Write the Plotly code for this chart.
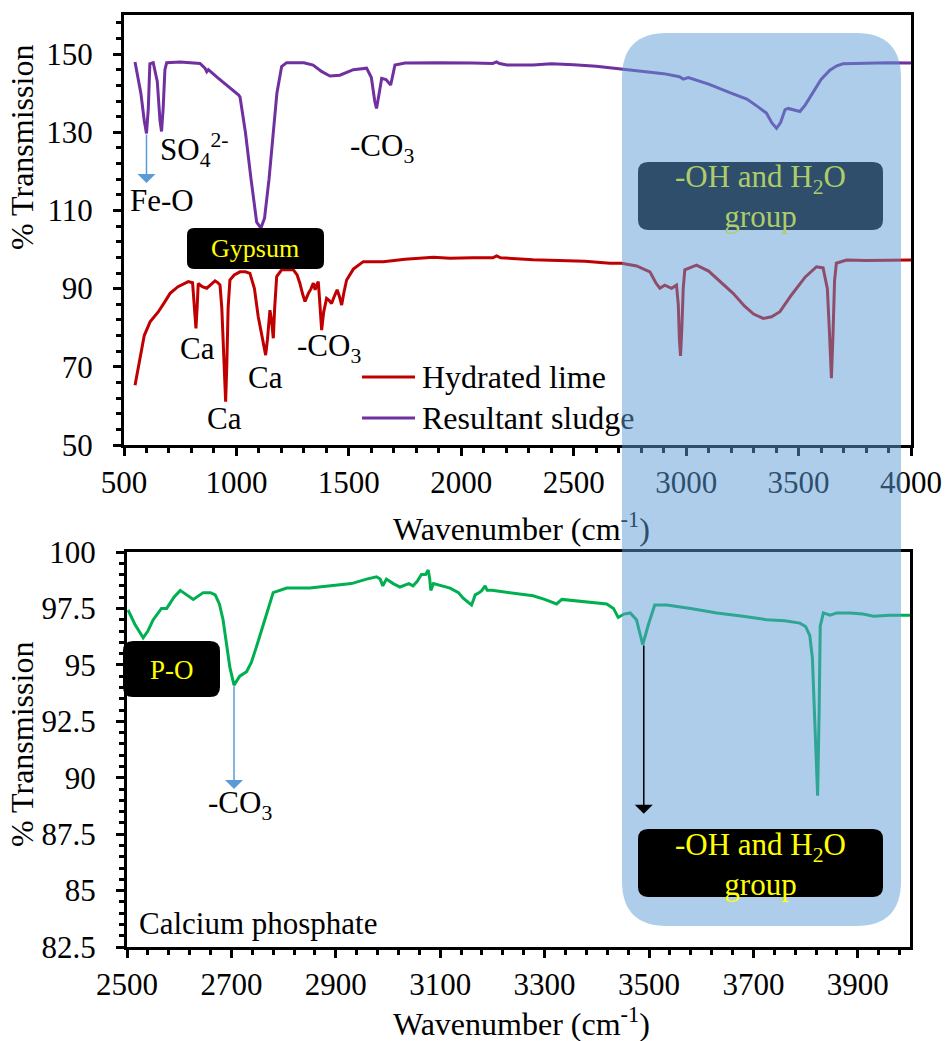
import plotly.graph_objects as go

# ---------------- data ----------------
# Resultant sludge (top panel)
sludge_wn = [549, 575, 590, 600, 608, 615, 630, 648, 660, 667, 674, 682, 690, 750, 838, 860, 868, 875,
             920, 985, 1010, 1016, 1040, 1065, 1090, 1109, 1125, 1145, 1163, 1180, 1201, 1223, 1300,
             1341, 1380, 1416, 1460, 1520, 1579, 1600, 1615, 1623, 1632, 1646, 1665, 1680, 1686, 1695,
             1705, 1750, 1900, 2050, 2140, 2157, 2170, 2203, 2319, 2400, 2500, 2600, 2705, 2800, 2900,
             2970, 2987, 3010, 3100, 3200, 3254, 3270, 3320, 3357, 3380, 3402, 3420, 3440, 3454, 3480,
             3506, 3530, 3565, 3600, 3639, 3670, 3698, 3800, 3900, 4000]
sludge_t = [148.0, 140.0, 133.0, 129.7, 136.0, 147.5, 147.8, 143.0, 133.0, 130.2, 136.0, 146.0, 147.8,
            148.0, 147.6, 146.4, 145.5, 146.0, 143.8, 140.8, 139.5, 139.0, 130.0, 118.0, 107.0, 105.5,
            108.0, 118.0, 129.8, 140.0, 146.8, 147.8, 147.8, 147.2, 145.5, 144.4, 144.6, 146.0, 146.4,
            144.0, 138.0, 136.1, 139.0, 143.8, 143.5, 142.3, 142.1, 144.5, 147.2, 147.7, 147.8, 147.7,
            147.6, 148.0, 147.6, 147.2, 147.2, 147.5, 147.3, 146.9, 146.2, 145.6, 145.0, 144.2, 143.6,
            144.0, 142.3, 140.0, 138.7, 138.5, 136.5, 134.9, 132.5, 131.0, 132.5, 135.8, 136.1, 135.7,
            135.3, 137.0, 140.4, 143.5, 145.9, 147.0, 147.5, 147.7, 147.8, 147.7]

# Hydrated lime (top panel)
lime_wn = [549, 570, 590, 616, 653, 680, 705, 740, 786, 805, 812, 820, 826, 830, 848, 868, 890, 905,
           918, 927, 935, 942, 947, 952, 957, 963, 971, 990, 1016, 1040, 1060, 1080, 1097, 1112, 1123,
           1130, 1138, 1149, 1156, 1164, 1170, 1179, 1201, 1253, 1270, 1282, 1295, 1305, 1320, 1332,
           1342, 1350, 1357, 1364, 1370, 1379, 1388, 1401, 1412, 1423, 1435, 1448, 1458, 1468, 1478,
           1490, 1520, 1564, 1653, 1750, 1876, 1950, 2050, 2140, 2157, 2175, 2319, 2450, 2550, 2661,
           2713, 2780, 2839, 2865, 2883, 2905, 2935, 2957, 2965, 2970, 2975, 2981, 2987, 2994, 3046,
           3100, 3160, 3209, 3260, 3300, 3343, 3380, 3417, 3470, 3530, 3580, 3609, 3628, 3638, 3646,
           3653, 3660, 3668, 3713, 3800, 3900, 4000]
lime_t = [65.3, 72.0, 78.0, 81.5, 84.1, 86.5, 88.8, 90.5, 91.8, 91.5, 85.0, 79.8, 86.0, 91.3, 90.5,
          90.1, 91.2, 92.0, 91.5, 90.9, 85.0, 74.0, 65.0, 61.1, 70.0, 85.0, 92.2, 93.5, 94.3, 94.3,
          93.9, 90.0, 82.8, 78.6, 75.0, 73.0, 77.0, 84.5, 82.0, 77.3, 85.0, 93.1, 94.8, 94.8, 93.5,
          91.4, 88.5, 86.7, 88.8, 90.0, 91.4, 89.7, 91.0, 91.8, 87.0, 79.4, 84.0, 87.5, 87.0, 86.2,
          88.0, 89.7, 88.0, 85.8, 89.0, 92.2, 95.0, 96.9, 96.9, 97.5, 98.0, 97.8, 97.9, 97.9, 98.4,
          97.9, 97.4, 97.2, 97.0, 96.5, 96.5, 95.8, 94.3, 91.5, 90.1, 90.9, 90.1, 90.9, 86.0, 77.0,
          72.8, 80.0, 90.0, 94.8, 96.0, 94.5, 91.5, 88.8, 85.5, 83.5, 82.4, 82.8, 84.1, 88.5, 93.0,
          95.6, 95.3, 90.0, 78.0, 67.1, 78.0, 92.0, 96.5, 97.3, 97.2, 97.2, 97.3]

# Calcium phosphate (bottom panel)
cap_wn = [2502, 2515, 2531, 2540, 2550, 2566, 2576, 2590, 2602, 2615, 2627, 2646, 2660, 2669, 2677,
          2684, 2690, 2697, 2705, 2710, 2716, 2729, 2738, 2748, 2758, 2768, 2780, 2806, 2850, 2895,
          2930, 2959, 2978, 2985, 2990, 2997, 3010, 3023, 3040, 3048, 3056, 3064, 3072, 3077, 3080,
          3082, 3087, 3119, 3135, 3144, 3152, 3160, 3164, 3167, 3175, 3180, 3186, 3190, 3199, 3234,
          3278, 3300, 3323, 3333, 3380, 3419, 3432, 3441, 3452, 3464, 3476, 3482, 3488, 3493, 3499,
          3511, 3534, 3580, 3630, 3680, 3725, 3760, 3789, 3800, 3808, 3813, 3817, 3820, 3823, 3826,
          3828, 3834, 3847, 3860, 3885, 3910, 3930, 3960, 3981, 4000]
cap_t = [97.43, 96.8, 96.2, 96.5, 96.99, 97.5, 97.5, 98.0, 98.3, 98.1, 97.9, 98.2, 98.2, 98.1, 97.7,
         97.0, 96.0, 94.9, 94.1, 94.3, 94.5, 94.7, 95.1, 95.8, 96.6, 97.3, 98.2, 98.4, 98.4, 98.5,
         98.6, 98.8, 98.9, 98.8, 98.5, 98.8, 98.6, 98.45, 98.6, 98.5, 98.7, 99.0, 99.0, 99.2, 98.8,
         98.3, 98.6, 98.4, 98.2, 97.95, 97.8, 97.65, 97.9, 98.1, 98.2, 98.3, 98.5, 98.3, 98.3, 98.2,
         98.06, 97.9, 97.7, 97.9, 97.8, 97.7, 97.5, 97.1, 97.25, 97.3, 97.0, 96.4, 95.9, 96.3, 96.8,
         97.65, 97.65, 97.5, 97.3, 97.15, 97.0, 96.95, 96.85, 96.7, 96.3, 95.3, 93.0, 90.5, 89.2, 93.0,
         96.7, 97.3, 97.2, 97.3, 97.3, 97.25, 97.15, 97.2, 97.2, 97.2]

# axis ticks
top_xticks = [500, 1000, 1500, 2000, 2500, 3000, 3500, 4000]
top_yticks = [50, 70, 90, 110, 130, 150]
bot_xticks = [2500, 2700, 2900, 3100, 3300, 3500, 3700, 3900]
bot_yticks = [82.5, 85, 87.5, 90, 92.5, 95, 97.5, 100]

# ---------------- layout helpers ----------------
W, H = 947, 1041
FONT = "Liberation Serif"
FS = 31
RED, PURPLE, GREEN = "#C00000", "#7030A0", "#00B050"
OVERLAY = "rgba(91,155,213,0.5)"
DARK_UNDER = "#2E4E6A"     # black seen through the blue band
YELLOW_UNDER = "#ADCD6A"   # yellow seen through the blue band


def px(x):
    return x / W


def py(y):
    return 1 - y / H


def rounded_rect(x0, y0, x1, y1, r):
    """SVG path of a rounded rectangle given in pixel coords, returned in paper units."""
    pts = [
        ("M", (x0 + r, y0)), ("L", (x1 - r, y0)), ("Q", (x1, y0, x1, y0 + r)),
        ("L", (x1, y1 - r)), ("Q", (x1, y1, x1 - r, y1)), ("L", (x0 + r, y1)),
        ("Q", (x0, y1, x0, y1 - r)), ("L", (x0, y0 + r)), ("Q", (x0, y0, x0 + r, y0)),
    ]
    parts = []
    for cmd, c in pts:
        coords = []
        for i in range(0, len(c), 2):
            coords.append(f"{px(c[i]):.5f},{py(c[i + 1]):.5f}")
        parts.append(cmd + " " + " ".join(coords))
    return " ".join(parts) + " Z"


def box(x0, y0, x1, y1, r, color):
    return dict(type="path", xref="paper", yref="paper", path=rounded_rect(x0, y0, x1, y1, r),
                fillcolor=color, line=dict(width=0), layer="above")


def text(t, x, y, size=FS, color="black", xanchor="center", yanchor="middle", **kw):
    return dict(text=t, x=px(x), y=py(y), xref="paper", yref="paper", showarrow=False,
                xanchor=xanchor, yanchor=yanchor, font=dict(family=FONT, size=size, color=color), **kw)


def arrow(x, y_tail, y_head, xref, yref, color):
    return dict(x=x, y=y_head, ax=x, ay=y_tail, xref=xref, yref=yref, axref=xref, ayref=yref,
                text=" ", font=dict(size=1), borderpad=0, showarrow=True, arrowhead=1,
                arrowsize=2, arrowwidth=1.5, arrowcolor=color, standoff=0, startstandoff=0)


fig = go.Figure()
fig.add_trace(go.Scatter(x=lime_wn, y=lime_t, mode="lines", name="Hydrated lime",
                         line=dict(color=RED, width=3), xaxis="x", yaxis="y"))
fig.add_trace(go.Scatter(x=sludge_wn, y=sludge_t, mode="lines", name="Resultant sludge",
                         line=dict(color=PURPLE, width=3), xaxis="x", yaxis="y"))
fig.add_trace(go.Scatter(x=cap_wn, y=cap_t, mode="lines", name="Calcium phosphate",
                         line=dict(color=GREEN, width=3), xaxis="x2", yaxis="y2"))

axis_common = dict(showgrid=False, zeroline=False, showline=True, linecolor="black", linewidth=3,
                   mirror=True, ticks="outside", ticklen=8, tickwidth=2.5, tickcolor="black",
                   tickfont=dict(family=FONT, size=FS, color="black"))

fig.update_layout(
    width=W, height=H, margin=dict(l=0, r=0, t=0, b=0, autoexpand=False),
    paper_bgcolor="white", plot_bgcolor="white", showlegend=False,
    xaxis=dict(axis_common, domain=[px(124), px(911)], anchor="y", range=[500, 4000],
               tickvals=top_xticks, ticklabelstandoff=0,
               minor=dict(dtick=100, tick0=500, ticks="outside", ticklen=5, tickwidth=2.5, tickcolor="black")),
    yaxis=dict(axis_common, domain=[py(445), py(15)], anchor="x", range=[50, 160],
               tickvals=top_yticks, ticklabelstandoff=14,
               minor=dict(dtick=4, tick0=50, ticks="outside", ticklen=5, tickwidth=2.5, tickcolor="black")),
    xaxis2=dict(axis_common, domain=[px(127), px(910)], anchor="y2", range=[2500, 4000],
                tickvals=bot_xticks, ticklabelstandoff=0,
                minor=dict(dtick=40, tick0=2500, ticks="outside", ticklen=5, tickwidth=2.5, tickcolor="black")),
    yaxis2=dict(axis_common, domain=[py(947), py(552)], anchor="x2", range=[82.5, 100],
                tickvals=bot_yticks, ticklabelstandoff=14,
                minor=dict(dtick=0.5, tick0=82.5, ticks="outside", ticklen=5, tickwidth=2.5, tickcolor="black")),
)

shapes = [
    # legend keys
    dict(type="line", xref="paper", yref="paper", x0=px(362), x1=px(415), y0=py(377), y1=py(377),
         line=dict(color=RED, width=3)),
    dict(type="line", xref="paper", yref="paper", x0=px(362), x1=px(415), y0=py(418), y1=py(418),
         line=dict(color=PURPLE, width=3)),
    box(187, 228, 324, 269, 7, "black"),           # Gypsum
    box(123, 641, 220, 697, 10, "black"),          # P-O
    box(638, 162, 883, 230, 10, "black"),          # -OH label, top panel (sits under the band)
    box(622, 33, 901, 926, 45, OVERLAY),           # highlighted -OH / H2O region
    box(638, 829, 883, 897, 10, "black"),          # -OH label, bottom panel
]
fig.update_layout(shapes=shapes)

anns = [
    # axis titles
    text("% Transmission", 22, 148, size=32, textangle=-90),
    text("% Transmission", 22, 745, size=32, textangle=-90),
    text(f"Wavenumber (cm<span style='color:{DARK_UNDER}'><sup>-1</sup>)</span>", 521, 527, size=32),
    text("Wavenumber (cm<sup>-1</sup>)", 521, 1022, size=32),
    # legend text
    text("Hydrated lime", 420, 377, size=32, xanchor="left"),
    text(f"Resultant sludg<span style='color:{DARK_UNDER}'>e</span>", 420, 418, size=32, xanchor="left"),
    # top panel labels
    text("SO<sub>4</sub><sup>2-</sup>", 158, 150, xanchor="left"),
    text("Fe-O", 162, 200),
    text("-CO<sub>3</sub>", 348, 148, xanchor="left"),
    text("Gypsum", 255, 248, size=26, color="yellow"),
    text("Ca", 197, 348),
    text("Ca", 224, 418),
    text("Ca", 265, 377),
    text("-CO<sub>3</sub>", 295, 348, xanchor="left"),
    text("-OH and H<sub>2</sub>O<br>group", 760, 196, color=YELLOW_UNDER),
    # bottom panel labels
    text("P-O", 172, 670, size=27, color="yellow"),
    text("-CO<sub>3</sub>", 240, 805),
    text("Calcium phosphate", 137, 923, xanchor="left"),
    text("-OH and H<sub>2</sub>O<br>group", 760, 864, color="yellow"),
    # arrows from the absorption minima
    arrow(600, 129.7, 117, "x", "y", "#5B9BD5"),
    arrow(2705, 94.1, 89.5, "x2", "y2", "#5B9BD5"),
    arrow(3490, 95.9, 88.4, "x2", "y2", "black"),
]
fig.update_layout(annotations=anns)

fig.write_html("out.html")
